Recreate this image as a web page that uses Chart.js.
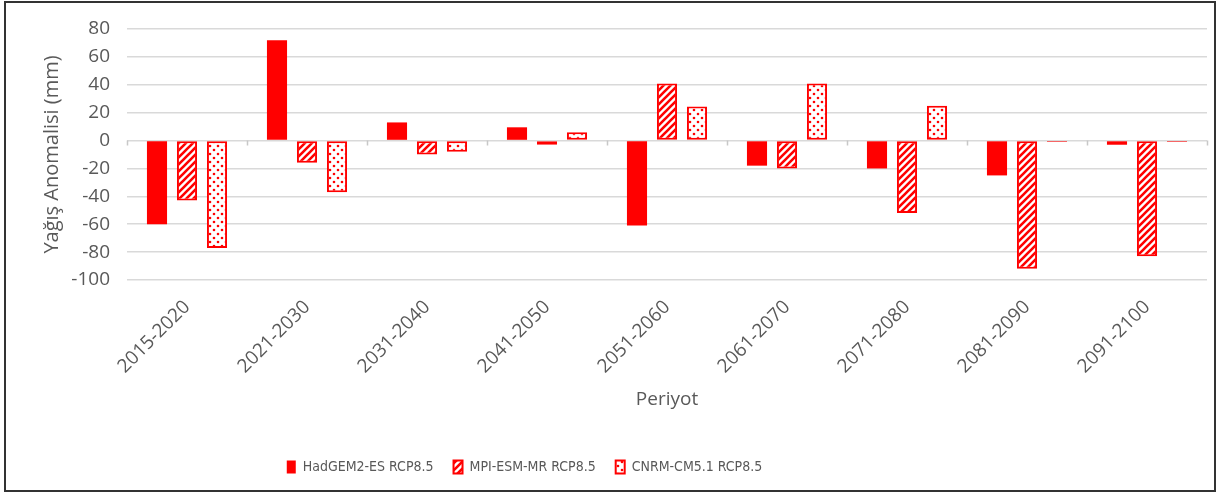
<!DOCTYPE html>
<html>
<head>
<meta charset="utf-8">
<script src="https://cdn.jsdelivr.net/npm/chart.js@4.4.1/dist/chart.umd.min.js"></script>
<style>
  html, body { margin: 0; padding: 0; background: #fff; }
  #wrap { position: absolute; left: 0; top: 0; width: 1218px; height: 493px; }
  #frame { position: absolute; left: 4px; top: 1px; width: 1208px; height: 487px;
           border: 2px solid #333; pointer-events: none; }
</style>
</head>
<body>
<div id="wrap"><canvas id="chart"></canvas></div>
<div id="frame"></div>
<script>
(function () {
  "use strict";

  /* ── Data ─────────────────────────────────── */

  var periods = ["2015-2020", "2021-2030", "2031-2040", "2041-2050", "2051-2060",
                 "2061-2070", "2071-2080", "2081-2090", "2091-2100"];
  var hadgem = [-60, 72, 13, 9.5, -61, -18, -20, -25, -3];
  var mpi    = [-43, -16, -10, -3, 41, -20, -52, -92, -83];
  var cnrm   = [-77, -37, -8, 6, 24.5, 41, 25, -1, -1];
  var yTicks = [80, 60, 40, 20, 0, -20, -40, -60, -80, -100];

  var RED = "#ff0000";
  var GREY = "#595959";
  var AXIS_FONT = "'Open Sans', 'DejaVu Sans', sans-serif";
  var LEGEND_FONT = "'Liberation Sans Narrow', 'DejaVu Sans Condensed', Lato, sans-serif";

  /* ── Fill patterns ─────────────────────────── */

  function hatch() {
    var c = document.createElement("canvas");
    c.width = 7; c.height = 7;
    var g = c.getContext("2d");
    g.fillStyle = "#fff"; g.fillRect(0, 0, 7, 7);
    g.strokeStyle = RED; g.lineWidth = 2.6;
    g.beginPath();
    g.moveTo(-1, 8); g.lineTo(8, -1);
    g.moveTo(-4, 4); g.lineTo(4, -4);
    g.moveTo(3, 11); g.lineTo(11, 3);
    g.stroke();
    return g.createPattern(c, "repeat");
  }

  function dots() {
    var c = document.createElement("canvas");
    c.width = 8; c.height = 8;
    var g = c.getContext("2d");
    g.fillStyle = "#fff"; g.fillRect(0, 0, 8, 8);
    g.fillStyle = RED;
    g.beginPath(); g.arc(2, 2, 1.3, 0, Math.PI * 2); g.fill();
    g.beginPath(); g.arc(6, 6, 1.3, 0, Math.PI * 2); g.fill();
    return g.createPattern(c, "repeat");
  }

  /* ── Plugins ───────────────────────────────── */

  // small category tick marks along the zero line, like the Excel axis
  var zeroTicks = {
    id: "zeroTicks",
    afterDatasetsDraw: function (chart) {
      var x = chart.scales.x, y = chart.scales.y, ctx = chart.ctx;
      var y0 = y.getPixelForValue(0);
      var step = x.width / periods.length;
      ctx.save();
      ctx.strokeStyle = "#c8c8c8";
      ctx.lineWidth = 1.5;
      ctx.beginPath();
      for (var i = 0; i <= periods.length; i++) {
        var px = Math.round(x.left + i * step) + 0.5;
        ctx.moveTo(px, y0);
        ctx.lineTo(px, y0 + 5);
      }
      ctx.stroke();
      ctx.restore();
    }
  };

  // legend sits left of centre in the original
  var legendShift = {
    id: "legendShift",
    afterLayout: function (chart) {
      chart.legend.left -= 99;
      chart.legend.right -= 99;
    }
  };

  /* ── Chart ─────────────────────────────────── */

  function init() {
    var ctx = document.getElementById("chart");

    new Chart(ctx, {
      type: "bar",
      data: {
        labels: periods,
        datasets: [{
          label: "HadGEM2-ES RCP8.5",
          data: hadgem,
          backgroundColor: RED,
          borderColor: RED,
          borderWidth: 0
        }, {
          label: "MPI-ESM-MR RCP8.5",
          data: mpi,
          backgroundColor: hatch(),
          borderColor: RED,
          borderWidth: 2,
          borderSkipped: false
        }, {
          label: "CNRM-CM5.1 RCP8.5",
          data: cnrm,
          backgroundColor: dots(),
          borderColor: RED,
          borderWidth: 2,
          borderSkipped: false
        }]
      },
      options: {
        responsive: true,
        maintainAspectRatio: false,
        animation: false,
        datasets: {
          bar: { categoryPercentage: 0.75, barPercentage: 0.67 }
        },
        layout: { padding: { left: 40, right: 11, top: 29, bottom: 9 } },
        scales: {
          x: {
            grid: { display: false },
            border: { display: false },
            ticks: {
              color: GREY,
              font: { family: AXIS_FONT, size: 19 },
              minRotation: 45,
              maxRotation: 45,
              padding: 8
            },
            title: {
              display: true,
              text: "Periyot",
              color: GREY,
              font: { family: AXIS_FONT, size: 19 },
              padding: { top: 0, bottom: 29 }
            },
            afterFit: function (s) { s.height = 160; }
          },
          y: {
            min: -100,
            max: 80,
            afterBuildTicks: function (s) {
              s.ticks = yTicks.map(function (v) { return { value: v }; });
            },
            grid: { color: "#d9d9d9", lineWidth: 1.5, drawTicks: false },
            border: { display: false },
            ticks: {
              color: GREY,
              font: { family: AXIS_FONT, size: 19 },
              padding: 17
            },
            title: {
              display: true,
              text: "Yağış Anomalisi (mm)",
              color: GREY,
              font: { family: AXIS_FONT, size: 20 },
              padding: { top: 0, bottom: 0 }
            },
            afterFit: function (s) { s.width = 87; }
          }
        },
        plugins: {
          legend: {
            position: "bottom",
            labels: {
              color: GREY,
              font: { family: LEGEND_FONT, size: 14 },
              boxWidth: 9,
              boxHeight: 13,
              padding: 20
            }
          },
          tooltip: { enabled: false }
        }
      },
      plugins: [zeroTicks, legendShift]
    });
  }

  if (document.readyState === "loading") {
    document.addEventListener("DOMContentLoaded", init);
  } else {
    init();
  }
})();
</script>
</body>
</html>
